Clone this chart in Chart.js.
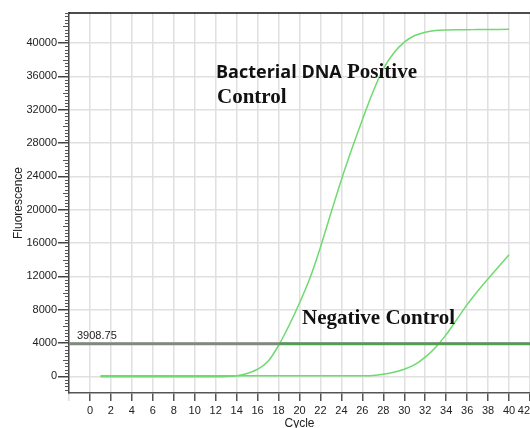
<!DOCTYPE html>
<html>
<head>
<meta charset="utf-8">
<script src="https://cdn.jsdelivr.net/npm/chart.js@4.4.0/dist/chart.umd.min.js"></script>
<style>
  html, body { margin: 0; padding: 0; background: #fff; }
  #wrap { width: 530px; height: 428px; }
</style>
</head>
<body>
<div id="wrap"><canvas id="ampChart" width="530" height="428"></canvas></div>
<script>
// amplification data
const cycles = [1, 2, 3, 4, 5, 6, 7, 8, 9, 10, 11, 12, 13, 14, 15, 16, 17, 18, 19, 20,
                21, 22, 23, 24, 25, 26, 27, 28, 29, 30, 31, 32, 33, 34, 35, 36, 37, 38, 39, 40];
const positiveRfu = [-60, -60, -60, -60, -60, -60, -60, -60, -60, -60, -60, -50, -20, 80, 350, 850, 1800, 3700, 6100, 8800,
                     11800, 15500, 19600, 23600, 27300, 30800, 34100, 36900, 38800, 40100, 40900, 41300, 41500, 41560, 41590, 41600, 41610, 41620, 41630, 41640];
const negativeRfu = [60, 60, 60, 60, 60, 60, 60, 60, 60, 60, 60, 60, 60, 60, 60, 60, 60, 60, 60, 60,
                     60, 60, 60, 60, 60, 70, 100, 250, 480, 850, 1400, 2300, 3500, 5000, 6800, 8600, 10200, 11700, 13150, 14600];
const thresholdValue = 3908.75;
const thresholdSpan = [-2, 42];
const crossingSpan = [18.1, 42];
const xTickValues = [-2, 0, 2, 4, 6, 8, 10, 12, 14, 16, 18, 20, 22, 24, 26, 28, 30, 32, 34, 36, 38, 40, 42];
const yTickValues = [0, 4000, 8000, 12000, 16000, 20000, 24000, 28000, 32000, 36000, 40000];

const toPoints = (xs, ys) => xs.map((x, i) => ({ x: x, y: ys[i] }));
const flatLine = (xs, v) => xs.map(x => ({ x: x, y: v }));

const SANS = '"Liberation Sans", Arial, sans-serif';
const SERIF = '"Liberation Serif", "Times New Roman", serif';

// Extra drawing: top frame, minor ticks, threshold label, annotations
const decorPlugin = {
    id: 'decor',
    afterDraw(chart) {
        const { ctx, chartArea } = chart;
        const ys = chart.scales.y;
        ctx.save();

        // top frame line
        ctx.strokeStyle = '#111';
        ctx.lineWidth = 1.5;
        ctx.beginPath();
        ctx.moveTo(chartArea.left, chartArea.top);
        ctx.lineTo(chartArea.right, chartArea.top);
        ctx.stroke();

        // minor ticks on the y axis
        ctx.strokeStyle = '#555';
        ctx.lineWidth = 1;
        for (let v = -1600; v <= 43600; v += 400) {
            if (v % 4000 === 0) continue;
            const py = Math.round(ys.getPixelForValue(v)) + 0.5;
            const len = (v % 2000 === 0) ? 6 : 4;
            ctx.beginPath();
            ctx.moveTo(chartArea.left - len, py);
            ctx.lineTo(chartArea.left, py);
            ctx.stroke();
        }

        // threshold value label
        ctx.fillStyle = '#222';
        ctx.font = '11px ' + SANS;
        ctx.textBaseline = 'alphabetic';
        ctx.textAlign = 'left';
        ctx.fillText(String(thresholdValue), chartArea.left + 8, ys.getPixelForValue(thresholdValue) - 5);

        // annotations (mixed fonts, as pasted in the source figure)
        ctx.fillStyle = '#111';
        ctx.font = 'bold 18px "Open Sans", sans-serif';
        ctx.fillText('Bacterial DNA', 216, 78);
        const firstEnd = 216 + ctx.measureText('Bacterial DNA').width;
        ctx.font = 'bold 21px ' + SERIF;
        ctx.fillText('Positive', Math.max(347, firstEnd + 5), 78);
        ctx.fillText('Control', 217, 103);
        ctx.fillText('Negative Control', 302, 324);

        ctx.restore();
    }
};

const ctx = document.getElementById('ampChart').getContext('2d');
new Chart(ctx, {
    type: 'scatter',
    data: {
        datasets: [
            {
                label: 'Threshold crossing',
                data: flatLine(crossingSpan, thresholdValue),
                showLine: true,
                borderColor: '#3fa83f',
                borderWidth: 2,
                pointRadius: 0,
                order: 0
            },
            {
                label: 'Threshold',
                data: flatLine(thresholdSpan, thresholdValue),
                showLine: true,
                borderColor: '#7f8a7f',
                borderWidth: 3,
                pointRadius: 0,
                order: 1
            },
            {
                label: 'Bacterial DNA Positive Control',
                data: toPoints(cycles, positiveRfu),
                showLine: true,
                borderColor: '#6fda6f',
                borderWidth: 1.5,
                pointRadius: 0,
                cubicInterpolationMode: 'monotone',
                order: 2
            },
            {
                label: 'Negative Control',
                data: toPoints(cycles, negativeRfu),
                showLine: true,
                borderColor: '#6fda6f',
                borderWidth: 1.5,
                pointRadius: 0,
                cubicInterpolationMode: 'monotone',
                order: 3
            }
        ]
    },
    options: {
        responsive: false,
        animation: false,
        layout: { padding: { top: 13, right: 0, left: 0, bottom: 0 } },
        plugins: {
            legend: { display: false },
            tooltip: { enabled: false }
        },
        scales: {
            x: {
                type: 'linear',
                min: -2,
                max: 42,
                afterBuildTicks: s => { s.ticks = xTickValues.map(v => ({ value: v })); },
                afterFit: s => { s.height = 35; s.paddingLeft = 0; s.paddingRight = 0; },
                grid: {
                    color: c => (c.tick && c.tick.value === -2) ? 'rgba(0,0,0,0)' : '#e0e0e0',
                    tickColor: c => (c.tick && c.tick.value === -2) ? '#dddddd' : '#555',
                    lineWidth: 1.5,
                    tickWidth: 1.5,
                    tickLength: 8
                },
                border: { color: '#555', width: 1.5 },
                ticks: {
                    autoSkip: false,
                    maxRotation: 0,
                    padding: 3,
                    color: '#222',
                    font: { family: SANS, size: 11 },
                    callback: v => v === -2 ? '' : (v === 42 ? '42\u00a0\u00a0\u00a0\u00a0' : String(v))
                },
                title: {
                    display: true,
                    text: 'Cycle',
                    color: '#222',
                    font: { family: SANS, size: 12 },
                    padding: { top: 0, bottom: -3 }
                }
            },
            y: {
                type: 'linear',
                min: -2000,
                max: 43600,
                afterBuildTicks: s => { s.ticks = yTickValues.map(v => ({ value: v })); },
                afterFit: s => { s.width = 69; s.paddingTop = 0; s.paddingBottom = 0; },
                grid: {
                    color: '#e0e0e0',
                    tickColor: '#444',
                    lineWidth: 1.5,
                    tickLength: 11
                },
                border: { color: '#444', width: 1.5 },
                ticks: {
                    padding: 1,
                    color: '#222',
                    font: { family: SANS, size: 11 },
                    callback: v => String(v)
                },
                title: {
                    display: true,
                    text: 'Fluorescence',
                    color: '#222',
                    font: { family: SANS, size: 12 },
                    padding: { top: 11, bottom: 0 }
                }
            }
        }
    },
    plugins: [decorPlugin]
});
</script>
</body>
</html>
